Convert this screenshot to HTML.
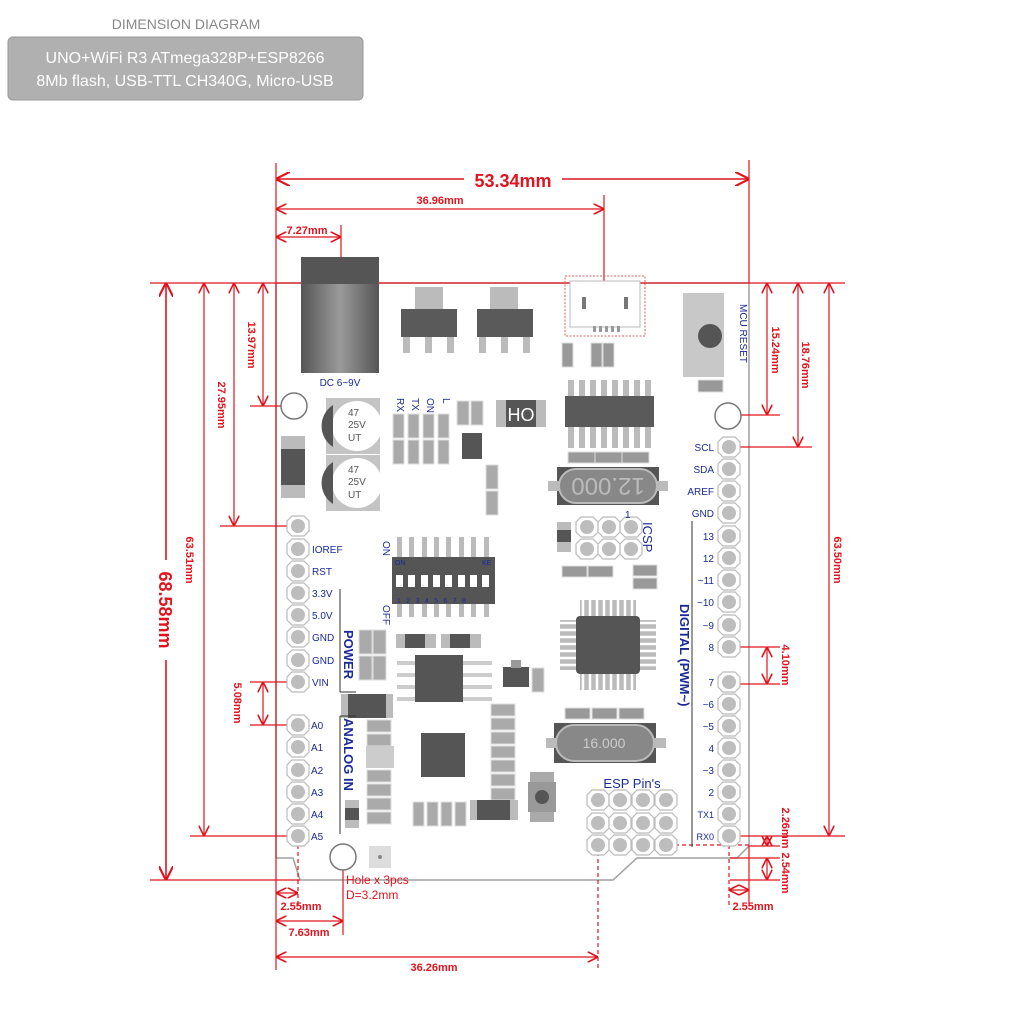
<!DOCTYPE html>
<html><head><meta charset="utf-8"><style>
html,body{margin:0;padding:0;background:#fff;}
svg{display:block;font-family:"Liberation Sans",sans-serif;}
.r{stroke:#e0141e;stroke-width:1.2;fill:none}
.rt{fill:#e0141e;font-weight:bold;font-size:11px}
.big{font-size:18px}
.b{fill:#1a2a9a;font-size:10px}
.pin{fill:#fff;stroke:#bbb;stroke-width:1.2}
.pd{fill:#bdbdbd}
</style></head><body>
<svg width="1024" height="1024" viewBox="0 0 1024 1024" xmlns="http://www.w3.org/2000/svg">
<defs>
<marker id="a" viewBox="0 0 10 10" refX="9" refY="5" markerWidth="9" markerHeight="9" orient="auto-start-reverse"><path d="M0,0 L10,5 L0,10" fill="none" stroke="#e0141e" stroke-width="1.5"/></marker>
<linearGradient id="g" x1="0" x2="1"><stop offset="0" stop-color="#555"/><stop offset=".5" stop-color="#9a9a9a"/><stop offset="1" stop-color="#555"/></linearGradient>
<g id="p"><polygon points="-6,-10 6,-10 11,-5 11,5 6,10 -6,10 -11,5 -11,-5" class="pin"/><circle r="7" class="pd"/></g>
</defs>
<text x="186" y="29" text-anchor="middle" font-size="14" fill="#888">DIMENSION DIAGRAM</text>
<rect x="8" y="37" width="355" height="63" rx="5" fill="#b0b0b0" stroke="#999"/>
<text x="185" y="63" text-anchor="middle" font-size="16" fill="#fff">UNO+WiFi R3 ATmega328P+ESP8266</text>
<text x="185" y="86" text-anchor="middle" font-size="16" fill="#fff">8Mb flash, USB-TTL CH340G, Micro-USB</text>

<path d="M276,283 L749,283 L749,846 L737,858 L637,858 L613,880 L300,880 L293,858 L276,858 Z" fill="#fff" stroke="#a0a0a0" stroke-width="1.5"/>

<g class="r" stroke-width="1">
<line x1="150" y1="283" x2="845" y2="283"/>
<line x1="150" y1="880" x2="300" y2="880"/>
<line x1="276" y1="163" x2="276" y2="970"/>
<line x1="749" y1="160" x2="749" y2="283"/>
<line x1="604" y1="195" x2="604" y2="283"/>
<line x1="341" y1="225" x2="341" y2="258"/>
<line x1="250" y1="406" x2="290" y2="406"/>
<line x1="220" y1="526" x2="290" y2="526"/>
<line x1="190" y1="836" x2="290" y2="836"/>
<line x1="250" y1="682" x2="290" y2="682"/>
<line x1="250" y1="725" x2="290" y2="725"/>
<line x1="730" y1="415" x2="780" y2="415"/>
<line x1="740" y1="447" x2="812" y2="447"/>
<line x1="740" y1="836" x2="845" y2="836"/>
<line x1="740" y1="647" x2="780" y2="647"/>
<line x1="740" y1="684" x2="780" y2="684"/>
<line x1="749" y1="846" x2="780" y2="846"/>
<line x1="730" y1="858" x2="780" y2="858"/>
<line x1="730" y1="880" x2="780" y2="880"/>
<line x1="749" y1="846" x2="749" y2="905"/>
<line x1="298" y1="845" x2="298" y2="905" stroke-dasharray="4,3"/>
<line x1="343" y1="870" x2="343" y2="935"/>
<line x1="598" y1="845" x2="598" y2="970" stroke-dasharray="4,3"/>
<line x1="729" y1="845" x2="729" y2="905" stroke-dasharray="4,3"/>
<line x1="598" y1="845" x2="749" y2="845" stroke-dasharray="4,3"/>
</g>
<g class="r" marker-start="url(#a)" marker-end="url(#a)">
<line x1="277" y1="179" x2="748" y2="179" stroke-width="1.6"/>
<line x1="277" y1="209" x2="603" y2="209"/>
<line x1="277" y1="237" x2="340" y2="237"/>
<line x1="277" y1="893" x2="297" y2="893"/>
<line x1="277" y1="921" x2="342" y2="921"/>
<line x1="277" y1="957" x2="597" y2="957"/>
<line x1="730" y1="890" x2="748" y2="890"/>
<line x1="166" y1="284" x2="166" y2="879" stroke-width="1.6"/>
<line x1="204" y1="284" x2="204" y2="835"/>
<line x1="234" y1="284" x2="234" y2="525"/>
<line x1="263" y1="284" x2="263" y2="405"/>
<line x1="263" y1="683" x2="263" y2="724"/>
<line x1="767" y1="284" x2="767" y2="414"/>
<line x1="798" y1="284" x2="798" y2="446"/>
<line x1="829" y1="284" x2="829" y2="835"/>
<line x1="767" y1="648" x2="767" y2="683"/>
<line x1="767" y1="837" x2="767" y2="845"/>
<line x1="767" y1="859" x2="767" y2="879"/>
</g>
<rect x="464" y="170" width="98" height="20" fill="#fff"/>
<text x="513" y="187" text-anchor="middle" class="rt big">53.34mm</text>
<text x="440" y="204" text-anchor="middle" class="rt">36.96mm</text>
<text x="307" y="234" text-anchor="middle" class="rt">7.27mm</text>
<text x="301" y="910" text-anchor="middle" class="rt">2.55mm</text>
<text x="309" y="936" text-anchor="middle" class="rt">7.63mm</text>
<text x="434" y="971" text-anchor="middle" class="rt">36.26mm</text>
<text x="753" y="910" text-anchor="middle" class="rt">2.55mm</text>
<rect x="156" y="560" width="20" height="100" fill="#fff"/>
<g class="rt">
<text transform="translate(159,610) rotate(90)" text-anchor="middle" class="big">68.58mm</text>
<text transform="translate(186,560) rotate(90)" text-anchor="middle">63.51mm</text>
<text transform="translate(218,405) rotate(90)" text-anchor="middle">27.95mm</text>
<text transform="translate(248,345) rotate(90)" text-anchor="middle">13.97mm</text>
<text transform="translate(234,703) rotate(90)" text-anchor="middle">5.08mm</text>
<text transform="translate(772,350) rotate(90)" text-anchor="middle">15.24mm</text>
<text transform="translate(802,365) rotate(90)" text-anchor="middle">18.76mm</text>
<text transform="translate(834,560) rotate(90)" text-anchor="middle">63.50mm</text>
<text transform="translate(782,665) rotate(90)" text-anchor="middle">4.10mm</text>
<text transform="translate(782,828) rotate(90)" text-anchor="middle">2.26mm</text>
<text transform="translate(782,873) rotate(90)" text-anchor="middle">2.54mm</text>
</g>
<text x="346" y="884" font-size="12" fill="#e0141e">Hole x 3pcs</text>
<text x="346" y="899" font-size="12" fill="#e0141e">D=3.2mm</text>

<rect x="301" y="257" width="78" height="116" fill="url(#g)"/>
<rect x="301" y="257" width="78" height="27" fill="#555"/>
<text x="340" y="386" text-anchor="middle" class="b">DC 6~9V</text>
<g fill="#bbb"><rect x="415" y="287" width="28" height="22"/><rect x="490" y="287" width="28" height="22"/>
<rect x="403" y="335" width="7" height="18"/><rect x="425" y="335" width="7" height="18"/><rect x="447" y="335" width="7" height="18"/>
<rect x="479" y="335" width="7" height="18"/><rect x="501" y="335" width="7" height="18"/><rect x="523" y="335" width="7" height="18"/></g>
<rect x="401" y="309" width="56" height="28" fill="#5a5a5a"/><rect x="477" y="309" width="56" height="28" fill="#5a5a5a"/>
<rect x="565" y="276" width="80" height="60" fill="none" stroke="#e06060" stroke-dasharray="2,1.5"/>
<rect x="570" y="281" width="70" height="46" fill="#fff" stroke="#bbb"/>
<rect x="582" y="297" width="4" height="12" fill="#777"/><rect x="624" y="297" width="4" height="12" fill="#777"/>
<g fill="#999"><rect x="593" y="326" width="3" height="6"/><rect x="599" y="326" width="3" height="6"/><rect x="605" y="326" width="3" height="6"/><rect x="611" y="326" width="3" height="6"/><rect x="617" y="326" width="3" height="6"/></g>
<g fill="#999" stroke="#ddd"><rect x="562" y="343" width="11" height="24"/><rect x="591" y="343" width="11" height="24"/><rect x="603" y="343" width="11" height="24"/></g>
<rect x="683" y="293" width="41" height="84" fill="#c8c8c8"/><circle cx="710" cy="336" r="12" fill="#555"/>
<rect x="698" y="380" width="25" height="12" fill="#999" stroke="#ddd"/>
<text transform="translate(740,304) rotate(90)" class="b" font-size="10">MCU RESET</text>
<circle cx="294" cy="406" r="13" fill="#fff" stroke="#777" stroke-width="1.5"/>
<circle cx="728" cy="416" r="13" fill="#fff" stroke="#777" stroke-width="1.5"/>
<circle cx="343" cy="857" r="13" fill="#fff" stroke="#777" stroke-width="1.5"/>
<rect x="369" y="846" width="22" height="22" fill="#ddd"/><circle cx="380" cy="857" r="2" fill="#888"/>
<rect x="281" y="436" width="24" height="62" fill="#bbb"/><rect x="281" y="449" width="24" height="36" fill="#555"/>
<g><rect x="326" y="398" width="54" height="56" fill="#c4c4c4"/><circle cx="357" cy="426" r="25" fill="#fff"/><path d="M333,405 A25,25 0 0 0 333,447 Z" fill="#555"/>
<text x="348" y="416" font-size="10" fill="#555">47</text><text x="348" y="428" font-size="10" fill="#555">25V</text><text x="348" y="441" font-size="10" fill="#555">UT</text></g>
<g><rect x="326" y="455" width="54" height="56" fill="#c4c4c4"/><circle cx="357" cy="483" r="25" fill="#fff"/><path d="M333,462 A25,25 0 0 0 333,504 Z" fill="#555"/>
<text x="348" y="473" font-size="10" fill="#555">47</text><text x="348" y="485" font-size="10" fill="#555">25V</text><text x="348" y="498" font-size="10" fill="#555">UT</text></g>
<g class="b" font-size="10"><text transform="translate(397,398) rotate(90)">RX</text><text transform="translate(412,398) rotate(90)">TX</text><text transform="translate(427,398) rotate(90)">ON</text><text transform="translate(443,398) rotate(90)">L</text></g>
<g fill="#aaa" stroke="#ddd"><rect x="393" y="414" width="11" height="24"/><rect x="408" y="414" width="11" height="24"/><rect x="423" y="414" width="11" height="24"/><rect x="438" y="414" width="11" height="24"/>
<rect x="393" y="440" width="11" height="24"/><rect x="408" y="440" width="11" height="24"/><rect x="423" y="440" width="11" height="24"/><rect x="438" y="440" width="11" height="24"/>
<rect x="457" y="401" width="12" height="24"/><rect x="471" y="401" width="12" height="24"/>
<rect x="486" y="465" width="12" height="24"/><rect x="486" y="491" width="12" height="24"/></g>
<rect x="462" y="433" width="20" height="26" fill="#555"/>
<rect x="496" y="400" width="50" height="27" fill="#bbb"/><rect x="506" y="400" width="30" height="27" fill="#555"/><text x="521" y="421" font-size="18" fill="#fff" text-anchor="middle">HO</text>
<g fill="#bbb"><rect x="568" y="380" width="6" height="68"/><rect x="579" y="380" width="6" height="68"/><rect x="590" y="380" width="6" height="68"/><rect x="601" y="380" width="6" height="68"/><rect x="612" y="380" width="6" height="68"/><rect x="623" y="380" width="6" height="68"/><rect x="634" y="380" width="6" height="68"/><rect x="645" y="380" width="6" height="68"/></g>
<rect x="565" y="396" width="89" height="31" fill="#5a5a5a"/>
<g fill="#999" stroke="#ddd"><rect x="568" y="452" width="27" height="11"/><rect x="595" y="452" width="27" height="11"/><rect x="622" y="452" width="27" height="11"/></g>
<rect x="557" y="467" width="102" height="38" fill="#555"/><rect x="548" y="481" width="120" height="10" fill="#bbb"/>
<rect x="559" y="469" width="98" height="34" rx="17" fill="#888" stroke="#bbb" stroke-width="2"/>
<text x="608" y="496" text-anchor="middle" font-size="24" fill="#bbb" transform="rotate(180,608,487)">12.000</text>
<rect x="557" y="522" width="14" height="30" fill="#bbb"/><rect x="557" y="530" width="14" height="12" fill="#555"/>
<use href="#p" x="587" y="527"/><use href="#p" x="609" y="527"/><use href="#p" x="631" y="527"/>
<use href="#p" x="587" y="549"/><use href="#p" x="609" y="549"/><use href="#p" x="631" y="549"/>
<text transform="translate(643,522) rotate(90)" fill="#1a2a9a" font-size="13">ICSP</text>
<text x="625" y="518" class="b">1</text>
<g fill="#999" stroke="#ddd"><rect x="562" y="566" width="25" height="11"/><rect x="588" y="566" width="25" height="11"/><rect x="633" y="565" width="24" height="11"/><rect x="633" y="578" width="24" height="11"/></g>
<g fill="#bbb"><rect x="397" y="537" width="5" height="80"/><rect x="409" y="537" width="5" height="80"/><rect x="422" y="537" width="5" height="80"/><rect x="434" y="537" width="5" height="80"/><rect x="446" y="537" width="5" height="80"/><rect x="459" y="537" width="5" height="80"/><rect x="471" y="537" width="5" height="80"/><rect x="484" y="537" width="5" height="80"/></g>
<rect x="392" y="557" width="103" height="47" fill="#555"/>
<g fill="#fff"><rect x="396" y="575" width="7" height="12"/><rect x="408" y="575" width="7" height="12"/><rect x="421" y="575" width="7" height="12"/><rect x="433" y="575" width="7" height="12"/><rect x="445" y="575" width="7" height="12"/><rect x="458" y="575" width="7" height="12"/><rect x="470" y="575" width="7" height="12"/><rect x="482" y="575" width="7" height="12"/></g>
<text x="395" y="565" font-size="7" fill="#1a2a9a">ON</text><text x="482" y="565" font-size="7" fill="#1a2a9a">KE</text>
<text x="397" y="603" font-size="7" fill="#1a2a9a" letter-spacing="5.4">12345678</text>
<text transform="translate(383,541) rotate(90)" class="b" font-size="9">ON</text>
<text transform="translate(383,605) rotate(90)" class="b" font-size="9">OFF</text>
<g fill="#aaa" stroke="#ddd"><rect x="359" y="630" width="13" height="24"/><rect x="373" y="630" width="13" height="24"/><rect x="359" y="656" width="13" height="24"/><rect x="373" y="656" width="13" height="24"/></g>
<rect x="396" y="634" width="40" height="14" fill="#bbb"/><rect x="405" y="634" width="20" height="14" fill="#555"/>
<rect x="441" y="634" width="40" height="14" fill="#bbb"/><rect x="450" y="634" width="20" height="14" fill="#555"/>
<g fill="#ccc"><rect x="397" y="661" width="95" height="4"/><rect x="397" y="673" width="95" height="4"/><rect x="397" y="685" width="95" height="4"/><rect x="397" y="697" width="95" height="4"/></g>
<rect x="415" y="655" width="48" height="47" fill="#555"/>
<rect x="503" y="667" width="26" height="20" fill="#555"/><rect x="511" y="660" width="10" height="8" fill="#999"/>
<rect x="532" y="668" width="12" height="24" fill="#aaa" stroke="#ddd"/>
<g fill="#bbb"><rect x="580" y="600" width="56" height="90"/><rect x="560" y="620" width="96" height="50"/></g>
<g stroke="#fff" stroke-width="2.5"><path d="M583,600v90M590,600v90M597,600v90M604,600v90M611,600v90M618,600v90M625,600v90M632,600v90M560,623h96M560,630h96M560,637h96M560,644h96M560,651h96M560,658h96M560,665h96"/></g>
<rect x="576" y="616" width="64" height="58" rx="4" fill="#555"/>
<rect x="341" y="694" width="52" height="24" fill="#bbb"/><rect x="348" y="694" width="38" height="24" fill="#555"/>
<g fill="#aaa" stroke="#ddd"><rect x="367" y="720" width="24" height="12"/><rect x="367" y="734" width="24" height="12"/><rect x="367" y="770" width="24" height="12"/><rect x="367" y="784" width="24" height="12"/><rect x="367" y="798" width="24" height="12"/><rect x="367" y="812" width="24" height="12"/></g>
<rect x="366" y="746" width="28" height="22" fill="#ccc"/>
<rect x="421" y="733" width="44" height="44" fill="#555"/>
<g fill="#aaa" stroke="#ddd"><rect x="491" y="704" width="24" height="12"/><rect x="491" y="718" width="24" height="12"/><rect x="491" y="732" width="24" height="12"/><rect x="491" y="746" width="24" height="12"/><rect x="491" y="760" width="24" height="12"/><rect x="491" y="774" width="24" height="12"/><rect x="491" y="788" width="24" height="12"/>
<rect x="413" y="802" width="11" height="24"/><rect x="427" y="802" width="11" height="24"/><rect x="441" y="802" width="11" height="24"/><rect x="455" y="802" width="11" height="24"/></g>
<rect x="470" y="800" width="48" height="20" fill="#bbb"/><rect x="477" y="800" width="33" height="20" fill="#555"/>
<rect x="530" y="772" width="24" height="50" fill="#aaa"/><rect x="528" y="782" width="28" height="30" fill="#999"/><circle cx="542" cy="797" r="7" fill="#555"/>
<rect x="345" y="800" width="14" height="28" fill="#bbb"/><rect x="345" y="808" width="14" height="12" fill="#555"/>
<g fill="#999" stroke="#ddd"><rect x="565" y="708" width="25" height="11"/><rect x="592" y="708" width="25" height="11"/><rect x="619" y="708" width="25" height="11"/></g>
<rect x="554" y="723" width="102" height="40" fill="#555"/><rect x="546" y="738" width="120" height="10" fill="#bbb"/>
<rect x="556" y="725" width="98" height="36" rx="18" fill="#888" stroke="#bbb" stroke-width="2"/>
<text x="604" y="748" text-anchor="middle" font-size="14" fill="#ccc">16.000</text>
<text x="632" y="788" text-anchor="middle" fill="#1a2a9a" font-size="13">ESP Pin's</text>
<use href="#p" x="598" y="800"/><use href="#p" x="620" y="800"/><use href="#p" x="643" y="800"/><use href="#p" x="666" y="800"/>
<use href="#p" x="598" y="823"/><use href="#p" x="620" y="823"/><use href="#p" x="643" y="823"/><use href="#p" x="666" y="823"/>
<use href="#p" x="598" y="845"/><use href="#p" x="620" y="845"/><use href="#p" x="643" y="845"/><use href="#p" x="666" y="845"/>
<g>
<use href="#p" x="298" y="526"/><use href="#p" x="298" y="549"/><use href="#p" x="298" y="571"/><use href="#p" x="298" y="593"/><use href="#p" x="298" y="615"/><use href="#p" x="298" y="637"/><use href="#p" x="298" y="660"/><use href="#p" x="298" y="682"/>
<use href="#p" x="298" y="725"/><use href="#p" x="298" y="747"/><use href="#p" x="298" y="770"/><use href="#p" x="298" y="792"/><use href="#p" x="298" y="814"/><use href="#p" x="298" y="836"/>
</g>
<g class="b" font-size="11">
<text x="312" y="553">IOREF</text><text x="312" y="575">RST</text><text x="312" y="597">3.3V</text><text x="312" y="619">5.0V</text><text x="312" y="641">GND</text><text x="312" y="664">GND</text><text x="312" y="686">VIN</text>
<text x="311" y="729">A0</text><text x="311" y="751">A1</text><text x="311" y="774">A2</text><text x="311" y="796">A3</text><text x="311" y="818">A4</text><text x="311" y="840">A5</text>
</g>
<line x1="340" y1="589" x2="340" y2="692" stroke="#333"/><line x1="340" y1="692" x2="356" y2="692" stroke="#333"/>
<line x1="340" y1="716" x2="340" y2="834" stroke="#333"/><line x1="340" y1="716" x2="356" y2="716" stroke="#333"/>
<text transform="translate(344,630) rotate(90)" fill="#1a2a9a" font-size="13" font-weight="bold">POWER</text>
<text transform="translate(344,718) rotate(90)" fill="#1a2a9a" font-size="13" font-weight="bold">ANALOG IN</text>
<g>
<use href="#p" x="729" y="447"/><use href="#p" x="729" y="469"/><use href="#p" x="729" y="491"/><use href="#p" x="729" y="513"/><use href="#p" x="729" y="536"/><use href="#p" x="729" y="558"/><use href="#p" x="729" y="580"/><use href="#p" x="729" y="602"/><use href="#p" x="729" y="625"/><use href="#p" x="729" y="647"/>
<use href="#p" x="729" y="682"/><use href="#p" x="729" y="704"/><use href="#p" x="729" y="726"/><use href="#p" x="729" y="748"/><use href="#p" x="729" y="770"/><use href="#p" x="729" y="792"/><use href="#p" x="729" y="814"/><use href="#p" x="729" y="836"/>
</g>
<g class="b" font-size="11" text-anchor="end">
<text x="714" y="451">SCL</text><text x="714" y="473">SDA</text><text x="714" y="495">AREF</text><text x="714" y="517">GND</text><text x="714" y="540">13</text><text x="714" y="562">12</text><text x="714" y="584">~11</text><text x="714" y="606">~10</text><text x="714" y="629">~9</text><text x="714" y="651">8</text>
<text x="714" y="686">7</text><text x="714" y="708">~6</text><text x="714" y="730">~5</text><text x="714" y="752">4</text><text x="714" y="774">~3</text><text x="714" y="796">2</text><text x="714" y="818" font-size="9">TX1</text><text x="714" y="840" font-size="9">RX0</text>
</g>
<line x1="692" y1="521" x2="692" y2="847" stroke="#333"/>
<text transform="translate(680,604) rotate(90)" fill="#1a2a9a" font-size="13" font-weight="bold">DIGITAL  (PWM~)</text>
</svg>
</body></html>
